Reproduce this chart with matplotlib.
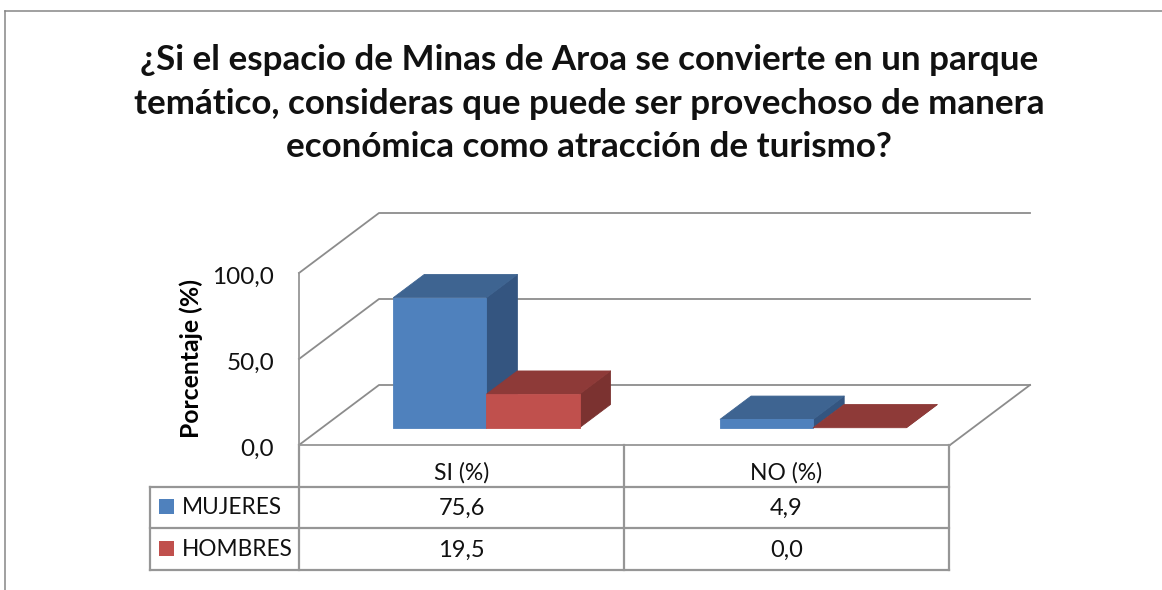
import matplotlib
matplotlib.use("Agg")
import matplotlib.pyplot as plt
from matplotlib.lines import Line2D
from matplotlib.patches import Polygon, Rectangle
from matplotlib.transforms import ScaledTranslation

plt.rcParams['font.family'] = ['Lato', 'DejaVu Sans']

categories = ["SI (%)", "NO (%)"]
series_names = ["MUJERES", "HOMBRES"]
mujeres = [75.6, 4.9]
hombres = [19.5, 0.0]
y_ticks = [0, 50, 100]
title = ("¿Si el espacio de Minas de Aroa se convierte en un parque\n"
         "temático, consideras que puede ser provechoso de manera\n"
         "económica como atracción de turismo?")

W, H = 1162, 590
fig = plt.figure(figsize=(W / 100, H / 100), dpi=100, facecolor="white")
L, R, B, T = 299, 950, 445, 273
ax = fig.add_axes([L / W, 1 - B / H, (R - L) / W, (B - T) / H])
ax.set_xlim(0, 2)
ax.set_ylim(0, 100)
ax.patch.set_visible(False)
for s in ["top", "right"]:
    ax.spines[s].set_visible(False)
for s in ["left", "bottom"]:
    ax.spines[s].set_color("#969696")
    ax.spines[s].set_linewidth(1.3)
ax.set_xticks([])
ax.set_yticks(y_ticks)
ax.set_yticklabels([f"{v:.1f}".replace(".", ",") for v in y_ticks], fontsize=17.5, color="#111111")
ax.tick_params(axis="y", length=0, pad=18)
for lab in ax.get_yticklabels():
    lab.set_transform(lab.get_transform() + ScaledTranslation(0, -2.5 / 100, fig.dpi_scale_trans))
ax.set_ylabel("Porcentaje (%)", fontsize=17.8, fontweight="bold", labelpad=0)
ax.yaxis.set_label_coords((203 - L) / (R - L), (B - 358) / (B - T))

# depth of the 3D box, in data units
DX = 80 / ((R - L) / 2)
DY = 60 / ((B - T) / 100)
GRID = "#8C8C8C"


def proj(x, y, d):
    return (x + DX * d, y + DY * d)


for v in y_ticks:
    pts = [proj(0, v, 0), proj(0, v, 1), proj(2, v, 1)]
    ax.add_line(Line2D(*zip(*pts), color=GRID, lw=1.3, clip_on=False, zorder=1))
floor = [proj(2, 0, 0), proj(2, 0, 1)]
ax.add_line(Line2D(*zip(*floor), color=GRID, lw=1.3, clip_on=False, zorder=1))

BAR_W = 0.286
D0, D1 = 0.288, 0.675
styles = [("#4F81BD", "#3E6491", "#345580"), ("#C0504D", "#8E3A38", "#7B3230")]


def bar3d(x0, x1, h, cols, z):
    front, top, side = cols
    kw = dict(clip_on=False, zorder=z, lw=0.6, joinstyle="round")
    ax.add_patch(Polygon([proj(x1, 0, D0), proj(x1, h, D0), proj(x1, h, D1), proj(x1, 0, D1)],
                         fc=side, ec=side, **kw))
    ax.add_patch(Polygon([proj(x0, h, D0), proj(x1, h, D0), proj(x1, h, D1), proj(x0, h, D1)],
                         fc=top, ec=top, **kw))
    if h > 0:
        ax.add_patch(Polygon([proj(x0, 0, D0), proj(x1, 0, D0), proj(x1, h, D0), proj(x0, h, D0)],
                             fc=front, ec=front, **kw))


for i in range(len(categories)):
    c = i * 1.004 + 0.505
    bar3d(c - BAR_W, c, mujeres[i], styles[0], 3)
    bar3d(c, c + BAR_W, hombres[i], styles[1], 4)

fig.text(589 / W, 1 - 103.5 / H, title, ha="center", va="center", fontsize=25.2,
         fontweight="bold", color="#111111", linespacing=1.46)


def fl(x0, y0, x1, y1, color="#969696", lw=1.6):
    fig.add_artist(Line2D([x0 / W, x1 / W], [1 - y0 / H, 1 - y1 / H], color=color, lw=lw))


# outer frame
fl(5, 11, W, 11, "#868686", 1.1)
fl(5, 11, 5, H, "#868686", 1.1)

# data table
for x, y0 in [(299, 445), (624, 445), (949, 445), (150, 487)]:
    fl(x, y0, x, 570)
for y, x0 in [(487, 150), (528, 150), (570, 150)]:
    fl(x0, y, 949, y)

xc = [461.5, 786.5]
ys = [508, 550]
for i, cat in enumerate(categories):
    fig.text(xc[i] / W, 1 - 472.5 / H, cat, ha="center", va="center", fontsize=16.5, color="#111111")
    for vals, y in zip([mujeres, hombres], ys):
        fig.text(xc[i] / W, 1 - y / H, f"{vals[i]:.1f}".replace(".", ","), ha="center",
                 va="center", fontsize=17, color="#111111")
for name, y, st in zip(series_names, ys, styles):
    fig.add_artist(Rectangle((159 / W, 1 - (y - 1.5 + 7.5) / H), 15 / W, 15 / H, fc=st[0], ec="none",
                             transform=fig.transFigure))
    fig.text(182 / W, 1 - y / H, name, ha="left", va="center", fontsize=16.3, color="#111111")

fig.savefig("out.png", dpi=100, facecolor="white")
